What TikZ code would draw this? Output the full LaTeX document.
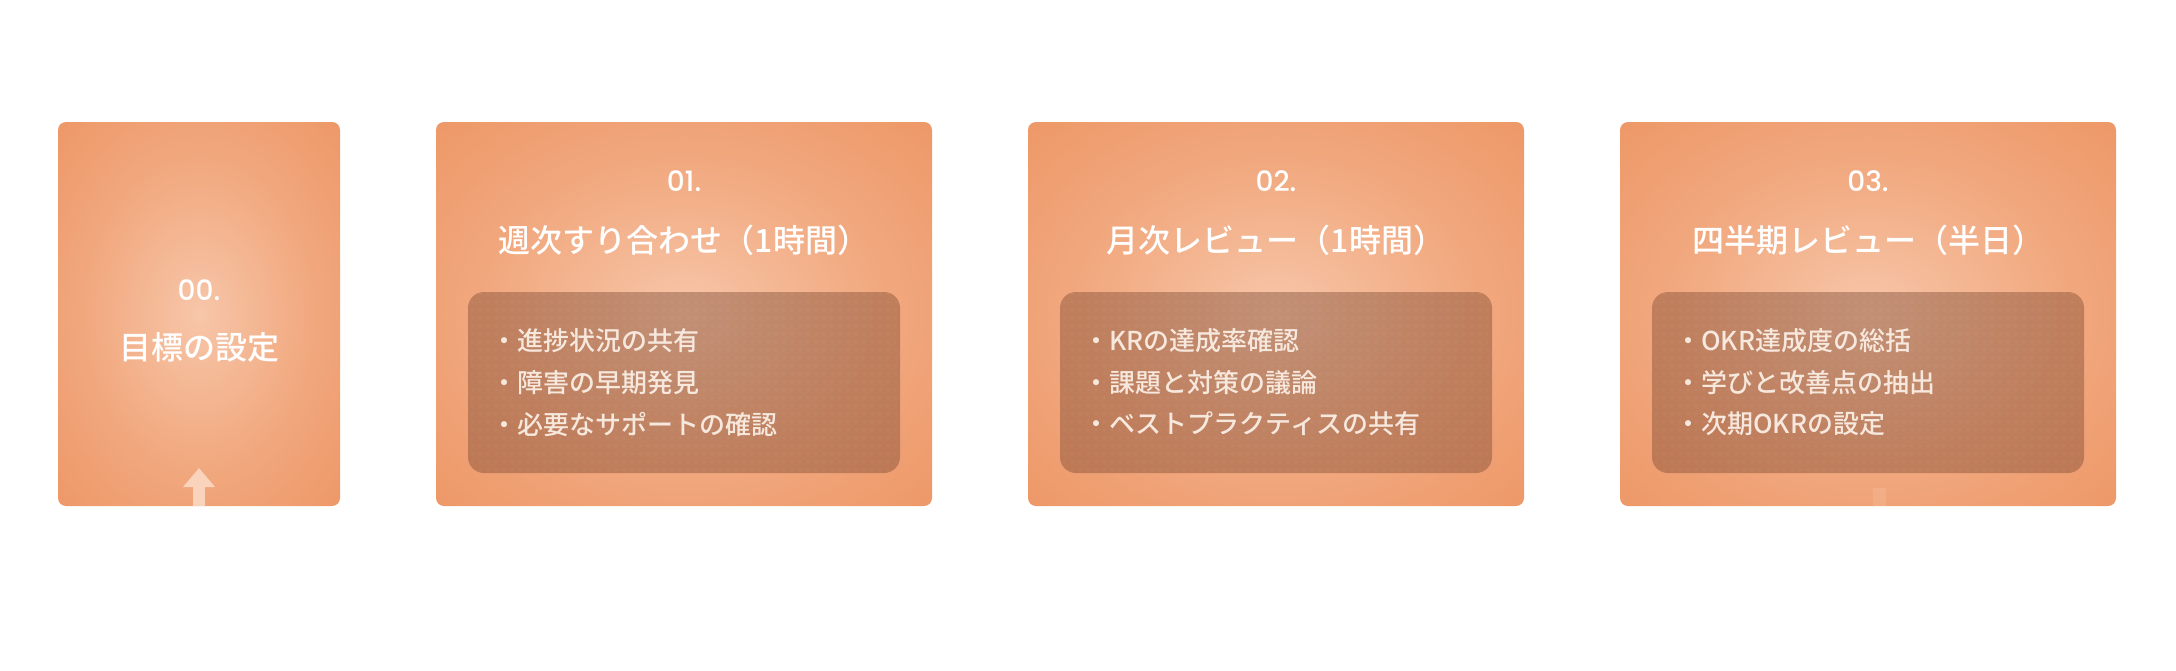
\documentclass[tikz,border=0pt]{standalone}
\usepackage{fontspec}
\usepackage{xcolor}
\usepackage{tikz}
\usetikzlibrary{arrows.meta,patterns.meta}

\newfontfamily\jpfont{Noto Sans CJK JP}[BoldFont={* Medium}]
\newfontfamily\numfont{Poppins}[BoldFont={* Medium}]

\definecolor{glowEdge}{HTML}{EC8F5C}
\definecolor{glowMid}{HTML}{F1A87E}
\definecolor{glowCore}{HTML}{F7C6A9}
\definecolor{panelBrown}{HTML}{7A4630}
\definecolor{itemText}{HTML}{F7E8DE}
\definecolor{arrowPeach}{HTML}{F9D3BC}

\pgfdeclareradialshading{cardglow}{\pgfpoint{0bp}{0bp}}{color(0bp)=(glowCore); color(20bp)=(glowMid); color(44bp)=(glowEdge); color(72bp)=(glowEdge)}

\begin{document}
\begin{tikzpicture}[x=1pt, y=-1pt,
    card/.style={shade, shading=cardglow, rounded corners=8pt, minimum height=384pt, inner sep=0pt},
    panel/.style={fill=panelBrown, fill opacity=0.42, rounded corners=16pt, minimum width=432pt, minimum height=181pt, inner sep=0pt,
      postaction={pattern={Dots[distance=8pt, radius=0.8pt]}, pattern color=white, fill opacity=0.12}},
    num/.style={text=white, font=\numfont\bfseries\fontsize{28}{32}\selectfont, inner sep=0pt},
    ttl/.style={text=white, font=\jpfont\bfseries\fontsize{32}{38}\selectfont, inner sep=0pt},
    item/.style={text=itemText, font=\jpfont\bfseries\fontsize{26}{30}\selectfont, anchor=west, inner sep=0pt},
    arrowline/.style={arrowPeach, line width=12pt, -{Triangle[width=31pt, length=19pt]}}]

            \fill[white] (0,0) rectangle (2176,670);
            \useasboundingbox (0,0) rectangle (2176,670);

            % Cards
            \node[card, minimum width=282pt] (c0) at (199,314) {};
            \node[card, minimum width=496pt] (c1) at (684,314) {};
            \node[card, minimum width=496pt] (c2) at (1276,314) {};
            \node[card, minimum width=496pt] (c3) at (1868,314) {};

            % Panels
            \node[panel] (p1) at (684,382.5) {};
            \node[panel] (p2) at (1276,382.5) {};
            \node[panel] (p3) at (1868,382.5) {};

            % Headings
            \node[num] (n0) at (199,290) {00.};
            \node[ttl] (t0) at (199,347) {目標の設定};
            \node[num] (n1) at (684,181) {01.};
            \node[ttl] (t1) at (684,240) {週次すり合わせ（1時間）};
            \node[num] (n2) at (1276,181) {02.};
            \node[ttl] (t2) at (1276,240) {月次レビュー（1時間）};
            \node[num] (n3) at (1868,181) {03.};
            \node[ttl] (t3) at (1868,240) {四半期レビュー（半日）};

            % Items
            \node[item] (i11) at (491,341) {・進捗状況の共有};
            \node[item] (i12) at (491,383) {・障害の早期発見};
            \node[item] (i13) at (491,424) {・必要なサポートの確認};
            \node[item] (i21) at (1083,341) {・KRの達成率確認};
            \node[item] (i22) at (1083,383) {・課題と対策の議論};
            \node[item] (i23) at (1083,424) {・ベストプラクティスの共有};
            \node[item] (i31) at (1675,341) {・OKR達成度の総括};
            \node[item] (i32) at (1675,383) {・学びと改善点の抽出};
            \node[item] (i33) at (1675,424) {・次期OKRの設定};

            % Arrows
            \coordinate (a0s) at (199,506);
            \coordinate (a0e) at (199,468);
            \draw[arrowline] (a0s) -- (a0e);
            \fill[white, fill opacity=0.1] (1873,488) rectangle (1886,506);
\end{tikzpicture}
\end{document}
